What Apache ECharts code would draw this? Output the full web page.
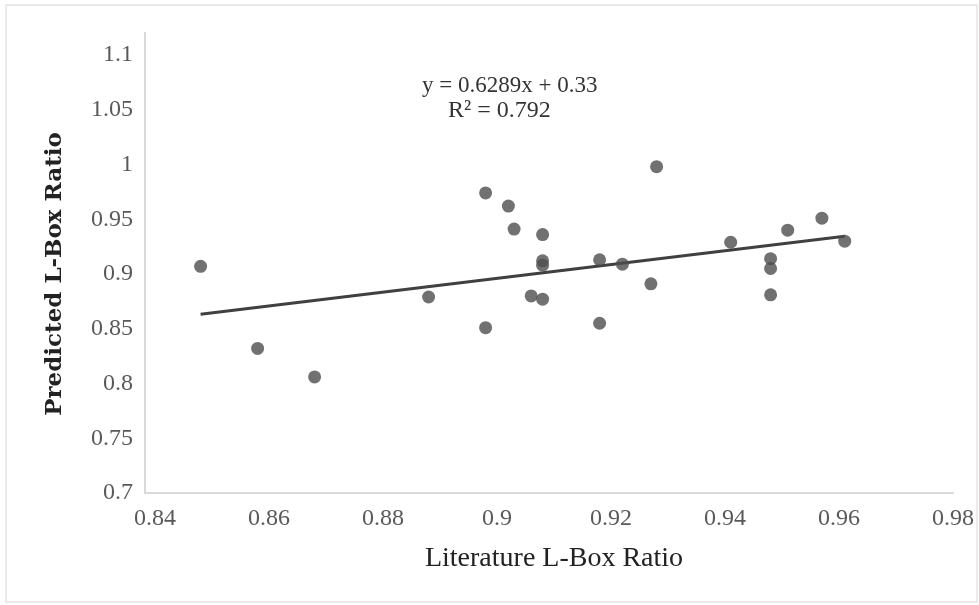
<!DOCTYPE html>
<html>
<head>
<meta charset="utf-8">
<script src="https://cdn.jsdelivr.net/npm/echarts@6/dist/echarts.min.js"></script>
<style>
  html, body { margin: 0; padding: 0; background: #fff; }
  #chart { width: 979px; height: 605px; }
</style>
</head>
<body>
<div id="chart"></div>
<script>
// literature vs predicted L-box ratio
const literatureRatio = [0.848, 0.858, 0.868, 0.888, 0.898, 0.898, 0.902, 0.903, 0.906, 0.908, 0.908, 0.908, 0.908,
  0.918, 0.918, 0.922, 0.927, 0.928, 0.941, 0.948, 0.948, 0.948, 0.951, 0.957, 0.961]
const predictedRatio = [0.907, 0.832, 0.806, 0.879, 0.974, 0.851, 0.962, 0.941, 0.880, 0.936, 0.912, 0.908, 0.877,
  0.913, 0.855, 0.909, 0.891, 0.998, 0.929, 0.914, 0.905, 0.881, 0.940, 0.951, 0.930]

// linear trend line ends
const trendX = [0.848, 0.961]
const trendY = [0.8633, 0.9344]

const equationText = 'y = 0.6289x + 0.33'
const r2Text = 'R² = 0.792'

const serif = '"Liberation Serif", "Times New Roman", serif'

const chart = echarts.init(document.getElementById('chart'))

const option = {
  backgroundColor: '#fff',
  animation: false,
  grid: {
    left: 155,
    right: 26,
    top: 55,
    bottom: 112
  },
  xAxis: {
    type: 'value',
    min: 0.84,
    max: 0.98,
    interval: 0.02,
    name: 'Literature L-Box Ratio',
    nameLocation: 'middle',
    nameGap: 52,
    nameTextStyle: {
      fontFamily: serif,
      fontSize: 28,
      color: '#222'
    },
    axisLine: { lineStyle: { color: '#d9d9d9', width: 2 } },
    axisTick: { show: false },
    splitLine: { show: false },
    axisLabel: {
      fontFamily: serif,
      fontSize: 24,
      color: '#595959',
      margin: 14
    }
  },
  yAxis: {
    type: 'value',
    min: 0.7,
    max: 1.1,
    interval: 0.05,
    offset: 10,
    name: 'Predicted L-Box Ratio',
    nameLocation: 'middle',
    nameGap: 78,
    nameTextStyle: {
      fontFamily: '"DejaVu Serif", serif',
      fontWeight: 'bold',
      fontSize: 23,
      color: '#222'
    },
    axisLine: { show: true, lineStyle: { color: '#d9d9d9', width: 2 } },
    axisTick: { show: false },
    splitLine: { show: false },
    axisLabel: {
      fontFamily: serif,
      fontSize: 24,
      color: '#595959',
      margin: 12
    }
  },
  series: [
    {
      name: 'points',
      type: 'scatter',
      data: literatureRatio.map((x, i) => [x, predictedRatio[i]]),
      symbol: 'circle',
      symbolSize: 13,
      itemStyle: { color: '#4d4d4d' },
      z: 3
    },
    {
      name: 'trend',
      type: 'line',
      data: trendX.map((x, i) => [x, trendY[i]]),
      showSymbol: false,
      lineStyle: { color: '#404040', width: 3 },
      z: 2
    }
  ],
  graphic: [
    {
      type: 'rect',
      shape: { x: 6, y: 5, width: 971, height: 597 },
      style: { fill: null, stroke: '#e3e3e3', lineWidth: 1.5 },
      silent: true
    },
    {
      // y axis line runs a bit above the top tick, as in the source
      type: 'line',
      shape: { x1: 145, y1: 32, x2: 145, y2: 56 },
      style: { stroke: '#d9d9d9', lineWidth: 2 },
      silent: true
    },
    {
      type: 'line',
      shape: { x1: 144, y1: 493, x2: 156, y2: 493 },
      style: { stroke: '#d9d9d9', lineWidth: 2 },
      silent: true
    },
    {
      type: 'text',
      left: 422,
      top: 74,
      style: { text: equationText, font: '23px ' + serif, fill: '#333' }
    },
    {
      type: 'text',
      left: 448,
      top: 99,
      style: { text: r2Text, font: '24px ' + serif, fill: '#333' }
    }
  ]
}

chart.setOption(option)
window.addEventListener('resize', () => chart.resize())
</script>
</body>
</html>
